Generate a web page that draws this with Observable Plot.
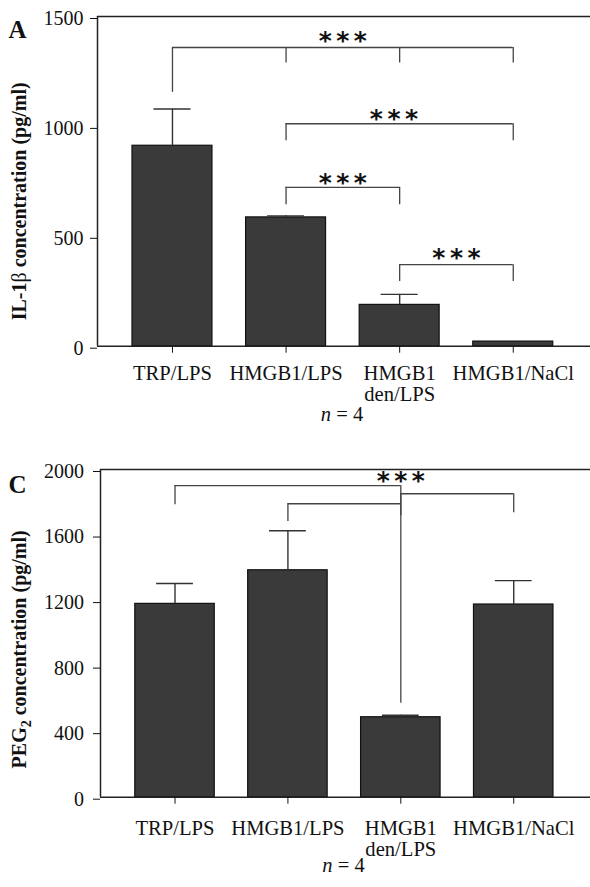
<!DOCTYPE html>
<html><head><meta charset="utf-8">
<script src="https://cdn.jsdelivr.net/npm/d3@7"></script>
<script src="https://cdn.jsdelivr.net/npm/@observablehq/plot@0.6"></script>
<style>
body{margin:0;background:#fff;}
#chart{width:590px;}
#chart svg{display:block;font-family:'Liberation Serif','Times New Roman',Times,serif;}
</style></head><body><div id="chart"></div>
<script>
// ---- data ----
const categories = ["TRP/LPS", "HMGB1/LPS", "HMGB1\nden/LPS", "HMGB1/NaCl"];
const il1bMean = [912, 586, 188, 21];
const il1bErr = [167, 7, 48, 0];
const il1bTicks = [0, 500, 1000, 1500];
const peg2Mean = [1180, 1385, 488, 1176];
const peg2Err = [124, 241, 12, 146];
const peg2Ticks = [0, 400, 800, 1200, 1600, 2000];
const caption = "n = 4";
const starText = "***";

// significance brackets (category index from/to, height in data units)
const bracketsA = [
  {from: 0, to: 3, y: 1359},
  {from: 1, to: 3, y: 1012},
  {from: 1, to: 2, y: 723},
  {from: 2, to: 3, y: 371}
];
const legsA = [
  {x: 0, y1: 1155, y2: 1359}, {x: 1, y1: 1288, y2: 1359}, {x: 2, y1: 1288, y2: 1359}, {x: 3, y1: 1288, y2: 1359},
  {x: 1, y1: 935, y2: 1012}, {x: 3, y1: 935, y2: 1012},
  {x: 1, y1: 643, y2: 723}, {x: 2, y1: 643, y2: 723},
  {x: 2, y1: 294, y2: 371}, {x: 3, y1: 294, y2: 371}
];
const starsA = [{x: 1.5, y: 1418}, {x: 1.95, y: 1062}, {x: 1.5, y: 771}, {x: 2.5, y: 427}];

const bracketsC = [
  {from: 0, to: 2, y: 1902},
  {from: 1, to: 2, y: 1791},
  {from: 2, to: 3, y: 1852}
];
const legsC = [
  {x: 0, y1: 1785, y2: 1902}, {x: 2, y1: 574, y2: 1902},
  {x: 1, y1: 1683, y2: 1791},
  {x: 3, y1: 1736, y2: 1852}, {x: 2, y1: 1718, y2: 1852}
];
const starsC = [{x: 2, y: 1968}];

// ---- drawing ----
const serif = "'Liberation Serif', 'Times New Roman', Times, serif";
const xDomain = [-0.66, 3.68];
const barHalf = 0.352;
const capHalf = 0.163;

function panel(o) {
  const idx = d3.range(o.mean.length);
  return Plot.plot({
    width: 590, height: o.height,
    marginTop: o.marginTop, marginBottom: o.marginBottom, marginLeft: o.marginLeft, marginRight: 0,
    style: {fontFamily: serif, fontSize: "20px", color: "#111", background: "#fff", overflow: "visible"},
    x: {type: "linear", domain: xDomain, axis: null},
    y: {domain: [0, o.ticks[o.ticks.length - 1]], axis: null},
    marks: [
      Plot.rectY(idx, {x1: i => i - barHalf, x2: i => i + barHalf, y1: 0, y2: i => o.mean[i], fill: "#3a3a3a", stroke: "#111", strokeWidth: 1.2}),
      Plot.ruleX(idx.filter(i => o.err[i] > 0), {x: i => i, y1: i => o.mean[i], y2: i => o.mean[i] + o.err[i], stroke: "#333", strokeWidth: 1.4}),
      Plot.ruleY(idx.filter(i => o.err[i] > 0), {y: i => o.mean[i] + o.err[i], x1: i => i - capHalf, x2: i => i + capHalf, stroke: "#333", strokeWidth: 1.4}),
      Plot.ruleY([0], {stroke: "#222", strokeWidth: 1.5}),
      Plot.ruleY([o.ticks[o.ticks.length - 1]], {stroke: "#222", strokeWidth: 1.5}),
      Plot.ruleX([xDomain[0]], {stroke: "#222", strokeWidth: 1.5}),
      Plot.axisY({ticks: o.ticks, tickFormat: d => `${d}`, tickSize: 7, tickPadding: o.tickPadY, fontSize: 20, fontFamily: serif, dy: 2, label: null}),
      Plot.axisX({ticks: idx, tickFormat: i => categories[i], tickSize: 7, tickPadding: o.tickPadX, fontSize: 20.6, fontFamily: serif, lineHeight: 1.03, label: null}),
      Plot.ruleY(o.brackets, {y: "y", x1: "from", x2: "to", stroke: "#444", strokeWidth: 1.3}),
      Plot.ruleX(o.legs, {x: "x", y1: "y1", y2: "y2", stroke: "#444", strokeWidth: 1.3}),
      Plot.text(o.stars, {x: "x", y: "y", text: () => starText, fontFamily: "'DejaVu Sans', sans-serif", fontWeight: "bold", fontSize: 25, dy: 6, fill: "#111", ariaDescription: "stars"}),
      Plot.text([o.yLabel], {frameAnchor: "left", textAnchor: "middle", rotate: -90, dx: o.yLabelDx, dy: o.yLabelDy, fontFamily: serif, fontWeight: "bold", fontSize: 20, ariaDescription: "ylabel"}),
      Plot.text([o.letter], {frameAnchor: "top-left", textAnchor: "start", lineAnchor: "bottom", dx: o.letterDx, dy: o.letterDy, fontFamily: serif, fontWeight: "bold", fontSize: 25}),
      Plot.text([caption], {frameAnchor: "bottom", textAnchor: "middle", lineAnchor: "bottom", dx: -2, dy: 74.3, fontFamily: serif, fontSize: 20.5, ariaDescription: "caption"})
    ]
  });
}

function richify(svg, labelParts) {
  const s = d3.select(svg);
  s.selectAll('g[aria-description="stars"] text').attr("letter-spacing", "4.5px").attr("dx", "2.2");
  s.selectAll('g[aria-description="caption"] text').each(function() {
    const t = d3.select(this); const txt = t.text();
    t.text(null);
    t.append("tspan").attr("font-style", "italic").text(txt.slice(0, 1));
    t.append("tspan").text(txt.slice(1));
  });
  s.selectAll('g[aria-description="ylabel"] text').each(function() {
    const t = d3.select(this);
    t.text(null);
    for (const p of labelParts) {
      const ts = t.append("tspan").text(p.text);
      if (p.weight) ts.attr("font-weight", p.weight);
      if (p.size) ts.attr("font-size", p.size);
      if (p.dy) ts.attr("dy", p.dy);
    }
  });
}

const chartA = panel({
  mean: il1bMean, err: il1bErr, ticks: il1bTicks, brackets: bracketsA, legs: legsA, stars: starsA,
  height: 435, marginTop: 16, marginBottom: 89.3, marginLeft: 97, tickPadX: 12, tickPadY: 7,
  yLabel: "IL-1β concentration (pg/ml)", yLabelDx: -78, yLabelDy: 20,
  letter: "A", letterDx: -89, letterDy: 21
});
richify(chartA, [{text: "IL-1"}, {text: "β", weight: "normal"}, {text: " concentration (pg/ml)"}]);

const chartC = panel({
  mean: peg2Mean, err: peg2Err, ticks: peg2Ticks, brackets: bracketsC, legs: legsC, stars: starsC,
  height: 452, marginTop: 34, marginBottom: 90.3, marginLeft: 100, tickPadX: 16, tickPadY: 9.5,
  yLabel: "PEG2 concentration (pg/ml)", yLabelDx: -81, yLabelDy: 16,
  letter: "C", letterDx: -92, letterDy: 23.3
});
richify(chartC, [{text: "PEG"}, {text: "2", size: 14, dy: 5}, {text: " concentration (pg/ml)", dy: -5}]);

document.getElementById("chart").append(chartA, chartC);
</script>
</body></html>
